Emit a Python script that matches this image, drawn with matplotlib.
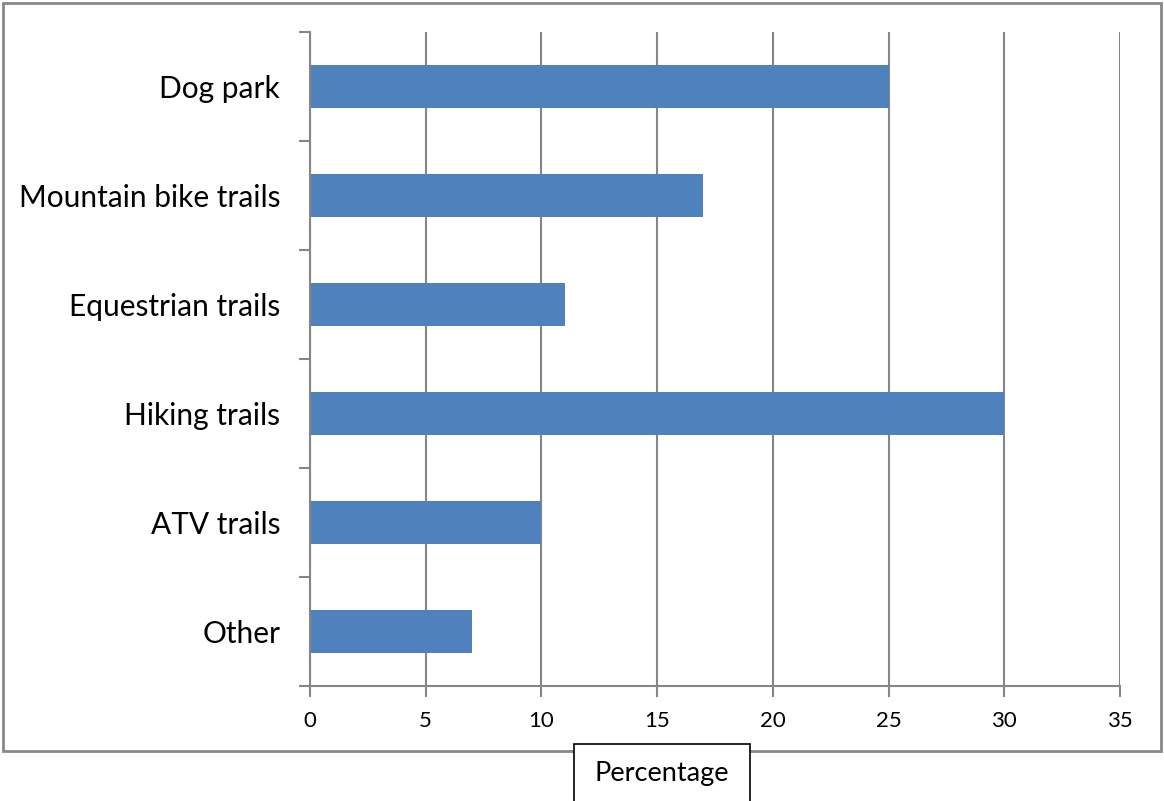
import numpy as np
import matplotlib.pyplot as plt
from matplotlib.patches import Rectangle

# data (top to bottom as in the chart)
categories = ["Dog park", "Mountain bike trails", "Equestrian trails",
              "Hiking trails", "ATV trails", "Other"]
values = [25, 17, 11, 30, 10, 7]
xticks = [0, 5, 10, 15, 20, 25, 30, 35]

W, H = 1164, 801
fig = plt.figure(figsize=(W / 100, H / 100), dpi=100)
plt.rcParams['font.family'] = ['Lato', 'DejaVu Sans']

# axes placed by pixel positions
left, right, top, bottom = 310, 1120, 32, 686
ax = fig.add_axes([left / W, 1 - bottom / H, (right - left) / W, (bottom - top) / H])

n = len(categories)
ypos = np.arange(n)[::-1]
ax.barh(ypos, values, height=0.4, color="#4F81BD", zorder=3)

ax.set_xlim(0, 35)
ax.set_ylim(-0.5, n - 0.5)
ax.set_xticks(xticks)
ax.set_xticklabels([str(t) for t in xticks], fontsize=16)

# category boundaries as major ticks, labels on minor ticks
ax.set_yticks(np.arange(n + 1) - 0.5)
ax.set_yticklabels([])
ax.set_yticks(ypos, minor=True)
ax.set_yticklabels(categories, minor=True, fontsize=21.5)
ax.tick_params(axis='y', which='minor', length=0, pad=21.5)
ax.tick_params(axis='y', which='major', length=8, color="#868686", width=1.5)
ax.tick_params(axis='x', length=8, color="#868686", width=1.5, pad=10)

ax.grid(axis='x', color="#868686", linewidth=1.5, zorder=0)
for s in ["top", "right"]:
    ax.spines[s].set_visible(False)
for s in ["left", "bottom"]:
    ax.spines[s].set_color("#868686")
    ax.spines[s].set_linewidth(1.5)
    ax.spines[s].set_zorder(4)

# outer chart border
fig.patches.append(Rectangle((3 / W, 1 - 751 / H), 1158 / W, 748 / H,
                             transform=fig.transFigure, fill=False,
                             edgecolor="#888888", linewidth=2))
# axis title box
fig.patches.append(Rectangle((574 / W, -0.05), 176 / W, 0.05 + 1 - 744 / H,
                             transform=fig.transFigure, facecolor="white",
                             edgecolor="black", linewidth=1.2, zorder=5))
fig.text(662 / W, 1 - 774 / H, "Percentage", fontsize=19.5, ha='center', va='center', zorder=6)

fig.savefig("out.png", dpi=100)
